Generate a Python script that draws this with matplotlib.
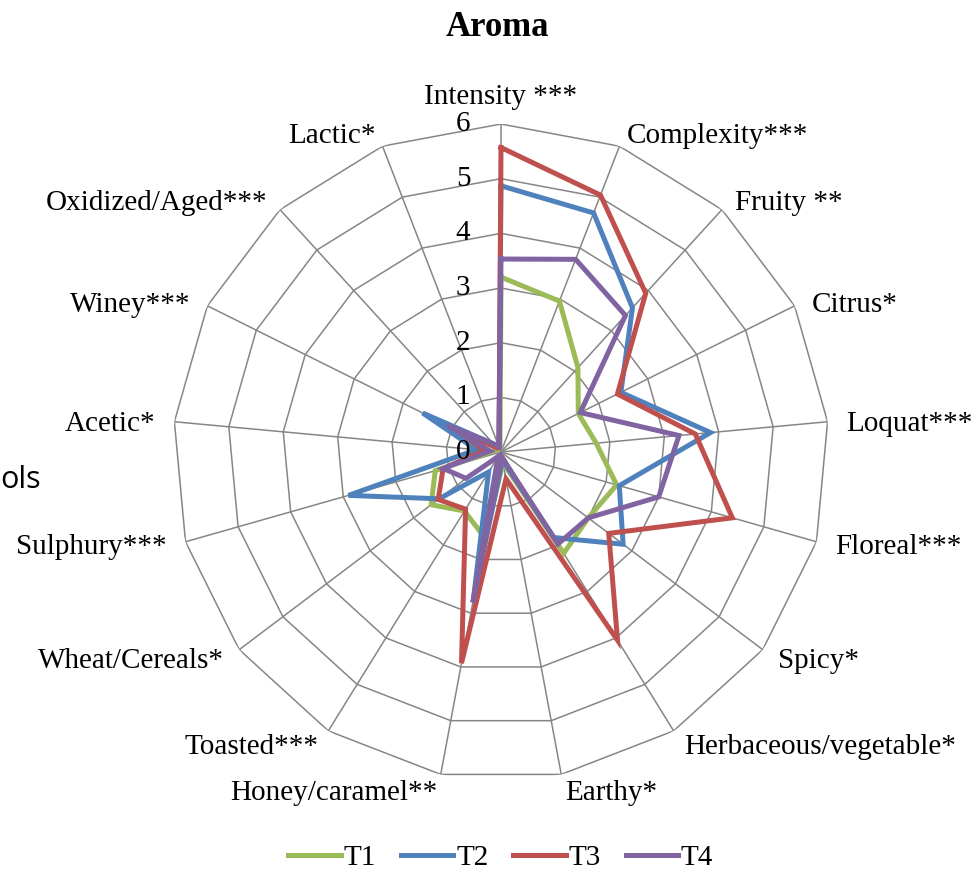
import numpy as np
import matplotlib
matplotlib.use("Agg")
import matplotlib.pyplot as plt

plt.rcParams['font.family'] = ['Liberation Serif', 'DejaVu Serif']

# attributes, clockwise from the top
categories = ["Intensity ***", "Complexity***", "Fruity **", "Citrus*", "Loquat***",
              "Floreal***", "Spicy*", "Herbaceous/vegetable*", "Earthy*", "Honey/caramel**",
              "Toasted***", "Wheat/Cereals*", "Sulphury***", "Acetic*", "Winey***",
              "Oxidized/Aged***", "Lactic*"]

T1 = [3.20, 2.96, 2.09, 1.58, 1.75, 2.20, 2.00, 2.18, 0.20, 1.60, 1.27, 1.60, 1.25, 0.15, 0.10, 0.05, 0.05]
T2 = [4.87, 4.69, 3.57, 2.45, 3.85, 2.25, 2.80, 1.84, 0.15, 2.75, 0.43, 1.42, 2.90, 0.45, 1.60, 0.20, 0.10]
T3 = [5.57, 5.04, 3.93, 2.38, 3.57, 4.40, 2.47, 4.05, 0.50, 3.93, 1.23, 1.44, 1.10, 0.30, 0.90, 0.10, 0.10]
T4 = [3.53, 3.78, 3.38, 1.62, 3.27, 3.00, 2.00, 1.98, 0.10, 2.80, 0.10, 0.80, 1.10, 0.20, 1.10, 0.20, 0.10]

series_names = ["T1", "T2", "T3", "T4"]
series_colors = ["#9BBB59", "#4F81BD", "#C0504D", "#8064A2"]
rings = [0, 1, 2, 3, 4, 5, 6]

n = len(categories)
theta = np.arange(n) * 2 * np.pi / n
theta_c = np.append(theta, theta[0])

fig = plt.figure(figsize=(9.76, 8.69), dpi=100)
ax = fig.add_axes([0.17725, 0.1024, 0.6721, 0.7549], projection='polar')
ax.set_theta_zero_location('N')
ax.set_theta_direction(-1)
ax.set_ylim(0, 6)
ax.grid(False)
ax.set_xticks([])
ax.set_yticks([])
ax.spines['polar'].set_visible(False)
ax.patch.set_visible(False)

gridcol = "#868686"
for v in rings[1:]:
    ax.plot(theta_c, [v] * (n + 1), color=gridcol, lw=1.1, zorder=1)
for t in theta:
    ax.plot([t, t], [0, 6], color=gridcol, lw=1.1, zorder=1)

for name, vals, col in zip(series_names, [T1, T2, T3, T4], series_colors):
    ax.plot(theta_c, vals + vals[:1], color=col, lw=3.6, label=name, zorder=3,
            solid_joinstyle='miter')

# category labels (upper ones sit a little lower, like Excel does)
for t, lab in zip(theta, categories):
    deg = np.degrees(t)
    c = np.cos(t)
    dy = -5.5 if c > 0.3 else (-3 if c > 0 else 0)
    if deg < 1:
        ax.annotate(lab, xy=(t, 6.5), ha='center', va='center', fontsize=21,
                    annotation_clip=False)
    elif deg < 180:
        ax.annotate(lab, xy=(t, 6.35), xytext=(0, dy), textcoords='offset points',
                    ha='left', va='center', fontsize=21, annotation_clip=False)
    else:
        ax.annotate(lab, xy=(t, 6.35), xytext=(0, dy), textcoords='offset points',
                    ha='right', va='center', fontsize=21, annotation_clip=False)

# radial value labels along the top spoke, drawn over the lines
for v in rings:
    ax.annotate(str(v), xy=(0, v), xytext=(-22, 0), textcoords='offset points',
                ha='right', va='center', fontsize=21, zorder=5, annotation_clip=False)

fig.text(0.51, 0.968, "Aroma", ha='center', va='center', fontsize=25, fontweight='bold')
fig.text(0.0, 0.448, "ols", ha='left', va='center', fontsize=22, family=['Open Sans', 'DejaVu Sans'])

handles, labels = ax.get_legend_handles_labels()
fig.legend(handles, labels, loc='center', bbox_to_anchor=(0.513, 0.013), ncol=4,
           frameon=False, fontsize=21, handlelength=1.8, handletextpad=0.1,
           columnspacing=0.85)

fig.savefig("out.png", dpi=100)
